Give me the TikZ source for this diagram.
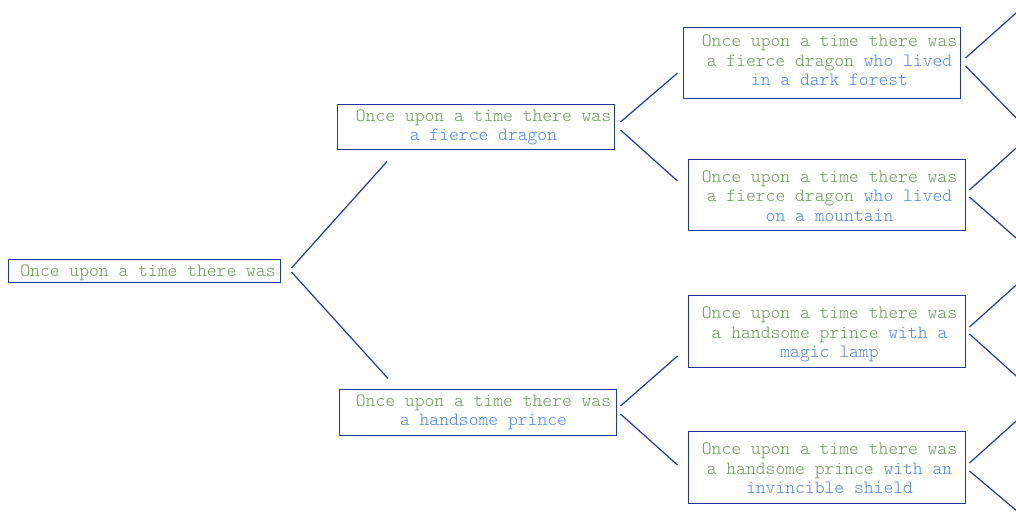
\documentclass[tikz,border=0pt]{standalone}
\definecolor{tgreen}{RGB}{106,153,85}
\definecolor{tblue}{RGB}{74,134,232}
\definecolor{bord}{RGB}{30,58,158}
\newcommand\G[1]{\textcolor{tgreen}{#1}}
\newcommand\B[1]{\textcolor{tblue}{#1}}
\newcommand\tl[2][0pt]{\raisebox{#1}[\height][\depth]{\begin{tabular}{@{}c@{}}#2\end{tabular}}}
\renewcommand\arraystretch{1}
\begin{document}
\begin{tikzpicture}[x=1pt,y=-1pt,
  box/.style={draw=bord, line width=1pt, inner sep=0pt, minimum width=277pt,
    font=\ttfamily\fontseries{l}\fontsize{18.7}{19.5}\selectfont},
  link/.style={draw=bord, line width=1.2pt}]
\useasboundingbox (0,0) rectangle (1016,520);
\clip (0,0) rectangle (1016,520);

\node[box, minimum width=272pt, minimum height=23pt] (root) at (144,270.5)
  {\hspace*{8pt}\tl[-2pt]{\G{Once upon a time there was}}};
\node[box, minimum height=45pt] (l1t) at (475.5,126.5)
  {\hspace*{16pt}\tl[-0.5pt]{\G{Once upon a time there was}\\\B{a fierce dragon}}};
\node[box, minimum height=46pt] (l1b) at (477.5,412)
  {\hspace*{12pt}\tl{\G{Once upon a time there was}\\\B{a handsome prince}}};
\node[box, minimum height=71pt] (l2a) at (821.5,62.5)
  {\hspace*{16pt}\tl{\G{Once upon a time there was}\\\G{a fierce dragon} \B{who lived}\\\B{in a dark forest}}};
\node[box, minimum height=71pt] (l2b) at (826.5,194.5)
  {\hspace*{6pt}\tl[-3.5pt]{\G{Once upon a time there was}\\\G{a fierce dragon} \B{who lived}\\\B{on a mountain}}};
\node[box, minimum height=72pt] (l2c) at (826.5,331)
  {\hspace*{6pt}\tl[-3.5pt]{\G{Once upon a time there was}\\\G{a handsome prince} \B{with a}\\\B{magic lamp}}};
\node[box, minimum height=72pt] (l2d) at (826.5,467)
  {\hspace*{6pt}\tl[-3.5pt]{\G{Once upon a time there was}\\\G{a handsome prince} \B{with an}\\\B{invincible shield}}};

% free ends beyond the right edge
\coordinate (a1) at (1024,6);
\coordinate (a2) at (1024,126);
\coordinate (b1) at (1024,141);
\coordinate (b2) at (1024,245);
\coordinate (c1) at (1024,278);
\coordinate (c2) at (1024,383);
\coordinate (d1) at (1024,414);
\coordinate (d2) at (1024,517);

\path[link] ([shift={(11,-2.5)}]root.east) -- ([shift={(-88.5,12)}]l1t.south);
\path[link] ([shift={(11,1.5)}]root.east) -- ([shift={(-89.5,-10)}]l1b.north);
\path[link] ([shift={(6,-4.5)}]l1t.east) -- ([shift={(-5,10.5)}]l2a.west);
\path[link] ([shift={(6,3.5)}]l1t.east) -- ([shift={(-10,-13.5)}]l2b.west);
\path[link] ([shift={(4,-6)}]l1b.east) -- ([shift={(-10,25)}]l2c.west);
\path[link] ([shift={(4,2)}]l1b.east) -- ([shift={(-10,-2)}]l2d.west);

\path[link] ([shift={(5,-4.5)}]l2a.east) -- (a1);
\path[link] ([shift={(5,3.5)}]l2a.east) -- (a2);
\path[link] ([shift={(4,-4.5)}]l2b.east) -- (b1);
\path[link] ([shift={(4,2.5)}]l2b.east) -- (b2);
\path[link] ([shift={(4,-4)}]l2c.east) -- (c1);
\path[link] ([shift={(4,3)}]l2c.east) -- (c2);
\path[link] ([shift={(4,-4)}]l2d.east) -- (d1);
\path[link] ([shift={(4,4)}]l2d.east) -- (d2);
\end{tikzpicture}
\end{document}
